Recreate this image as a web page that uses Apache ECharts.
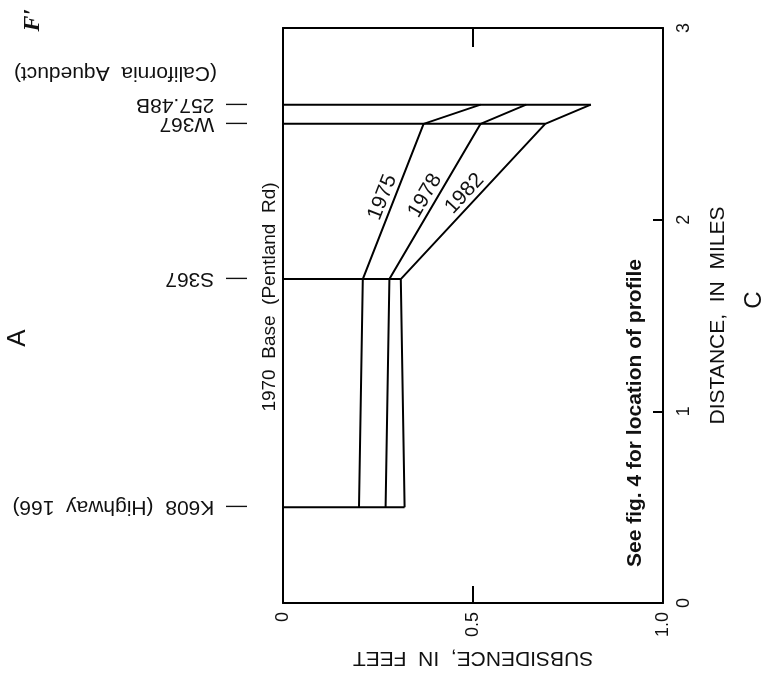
<!DOCTYPE html>
<html>
<head>
<meta charset="utf-8">
<script src="https://cdn.jsdelivr.net/npm/echarts@6/dist/echarts.min.js"></script>
<style>
  html, body { margin: 0; padding: 0; background: #fff; }
  #chart { width: 765px; height: 677px; }
</style>
</head>
<body>
<div id="chart"></div>
<script>
// Benchmarks along the leveling profile and their distance from the start (miles)
const benchmarks = ['K608  (Highway  166)', 'S367', 'W367', '257.48B'];
const distanceMi = [0.5, 1.69, 2.5, 2.6];

// Subsidence since the 1970 base survey at each benchmark (feet)
const years = ['1975', '1978', '1982'];
const sub1975 = [0.20, 0.21, 0.37, 0.52];
const sub1978 = [0.27, 0.28, 0.52, 0.64];
const sub1982 = [0.32, 0.31, 0.69, 0.81];
const surveys = [sub1975, sub1978, sub1982];

// Tick labels
const subsidenceTicks = ['0', '0.5', '1.0'];
const distanceTicks = ['0', '1', '2', '3'];

const FONT = '"Liberation Sans", Arial, Helvetica, sans-serif';
const INK = '#111';

const chart = echarts.init(document.getElementById('chart'), null, { renderer: 'canvas' });

const series = [];

// Leveling lines at each benchmark, from the base line out to the largest subsidence
distanceMi.forEach((d, i) => {
  const maxSub = Math.max(...surveys.map(s => s[i]));
  series.push({
    type: 'line',
    xAxisIndex: 0, yAxisIndex: 0,
    symbol: 'none',
    silent: true,
    lineStyle: { color: '#000', width: 2 },
    data: [[0, d], [maxSub, d]]
  });
});

// One profile per survey year, labelled along its steep segment
surveys.forEach((s, k) => {
  series.push({
    type: 'line',
    name: years[k],
    xAxisIndex: 0, yAxisIndex: 0,
    symbol: 'none',
    silent: true,
    lineStyle: { color: '#000', width: 2 },
    data: s.map((v, i) => [v, distanceMi[i]]),
    markLine: {
      silent: true,
      symbol: 'none',
      animation: false,
      lineStyle: { color: 'rgba(0,0,0,0)', width: 1, type: 'solid' },
      emphasis: { disabled: true },
      label: {
        show: true,
        position: 'middle',
        distance: 1,
        formatter: years[k],
        color: INK,
        fontSize: 21,
        fontFamily: FONT
      },
      data: [[
        { coord: [s[1], distanceMi[1]] },
        { coord: [s[2], distanceMi[2]] }
      ]]
    }
  });
});

const frameLine = { show: true, onZero: false, lineStyle: { color: '#000', width: 2 } };

const option = {
  backgroundColor: '#fff',
  animation: false,
  grid: { left: 283, right: 102, top: 28, bottom: 74, containLabel: false },
  xAxis: [
    {
      type: 'value', position: 'bottom', min: 0, max: 1, interval: 0.5,
      name: 'SUBSIDENCE,  IN  FEET', nameLocation: 'middle', nameRotate: 180, nameGap: 44,
      nameTextStyle: { color: INK, fontSize: 21, fontFamily: FONT },
      axisLine: frameLine,
      axisTick: { show: true, inside: true, length: 17, lineStyle: { color: '#000', width: 2 } },
      axisLabel: {
        rotate: 90, margin: 9, color: INK, fontSize: 18, fontFamily: FONT,
        showMinLabel: true, showMaxLabel: true,
        formatter: v => subsidenceTicks[Math.round(v / 0.5)]
      },
      splitLine: { show: false }
    },
    {
      type: 'value', position: 'top', min: 0, max: 1, interval: 0.5,
      axisLine: frameLine,
      axisTick: { show: true, inside: true, length: 19, lineStyle: { color: '#000', width: 2 } },
      axisLabel: { show: false },
      splitLine: { show: false }
    }
  ],
  yAxis: [
    {
      type: 'value', position: 'left', min: 0, max: 3, interval: 1,
      axisLine: frameLine,
      axisTick: { show: false },
      axisLabel: { show: false },
      splitLine: { show: false }
    },
    {
      type: 'value', position: 'right', min: 0, max: 3, interval: 1,
      name: 'DISTANCE,  IN  MILES', nameLocation: 'middle', nameRotate: 90, nameGap: 45,
      nameTextStyle: { color: INK, fontSize: 21, fontFamily: FONT },
      axisLine: frameLine,
      axisTick: { show: true, inside: true, length: 10, lineStyle: { color: '#000', width: 2 } },
      axisLabel: {
        rotate: 90, margin: 12, color: INK, fontSize: 18, fontFamily: FONT,
        showMinLabel: true, showMaxLabel: true,
        formatter: v => distanceTicks[Math.round(v)]
      },
      splitLine: { show: false }
    }
  ],
  series: series
};

chart.setOption(option);

// Benchmark names beside the base line, plus other annotations
const baseX = chart.convertToPixel({ xAxisIndex: 0 }, 0);
const labelStart = baseX - 36;
const benchY = distanceMi.map(d => chart.convertToPixel({ yAxisIndex: 0 }, d));

const graphics = benchmarks.map((name, i) => ({
  type: 'text', x: labelStart, y: benchY[i], rotation: Math.PI, silent: true,
  style: { text: '\u2014  ' + name, font: '21px ' + FONT, fill: INK, align: 'left', verticalAlign: 'middle' }
}));

graphics.push(
  {
    type: 'text', x: labelStart - 30, y: benchY[3] - 32, rotation: Math.PI, silent: true,
    style: { text: '(California  Aqueduct)', font: '21px ' + FONT, fill: INK, align: 'left', verticalAlign: 'middle' }
  },
  {
    type: 'text', x: baseX - 13, y: 297, rotation: Math.PI / 2, silent: true,
    style: { text: '1970  Base  (Pentland  Rd)', font: '19px ' + FONT, fill: INK, align: 'center', verticalAlign: 'middle' }
  },
  {
    type: 'text', x: 635, y: 413, rotation: Math.PI / 2, silent: true,
    style: { text: 'See fig. 4 for location of profile', font: 'bold 21px ' + FONT, fill: INK, align: 'center', verticalAlign: 'middle' }
  },
  {
    type: 'text', x: 18, y: 338, rotation: Math.PI / 2, silent: true,
    style: { text: 'A', font: '26px ' + FONT, fill: INK, align: 'center', verticalAlign: 'middle' }
  },
  {
    type: 'text', x: 754, y: 300, rotation: Math.PI / 2, silent: true,
    style: { text: 'C', font: '24px ' + FONT, fill: INK, align: 'center', verticalAlign: 'middle' }
  },
  {
    type: 'text', x: 33, y: 20, rotation: Math.PI / 2, silent: true,
    style: { text: 'F\u2032', font: 'italic bold 24px "Liberation Serif", "DejaVu Serif", serif', fill: INK, align: 'center', verticalAlign: 'middle' }
  }
);

chart.setOption({ graphic: graphics });
</script>
</body>
</html>
